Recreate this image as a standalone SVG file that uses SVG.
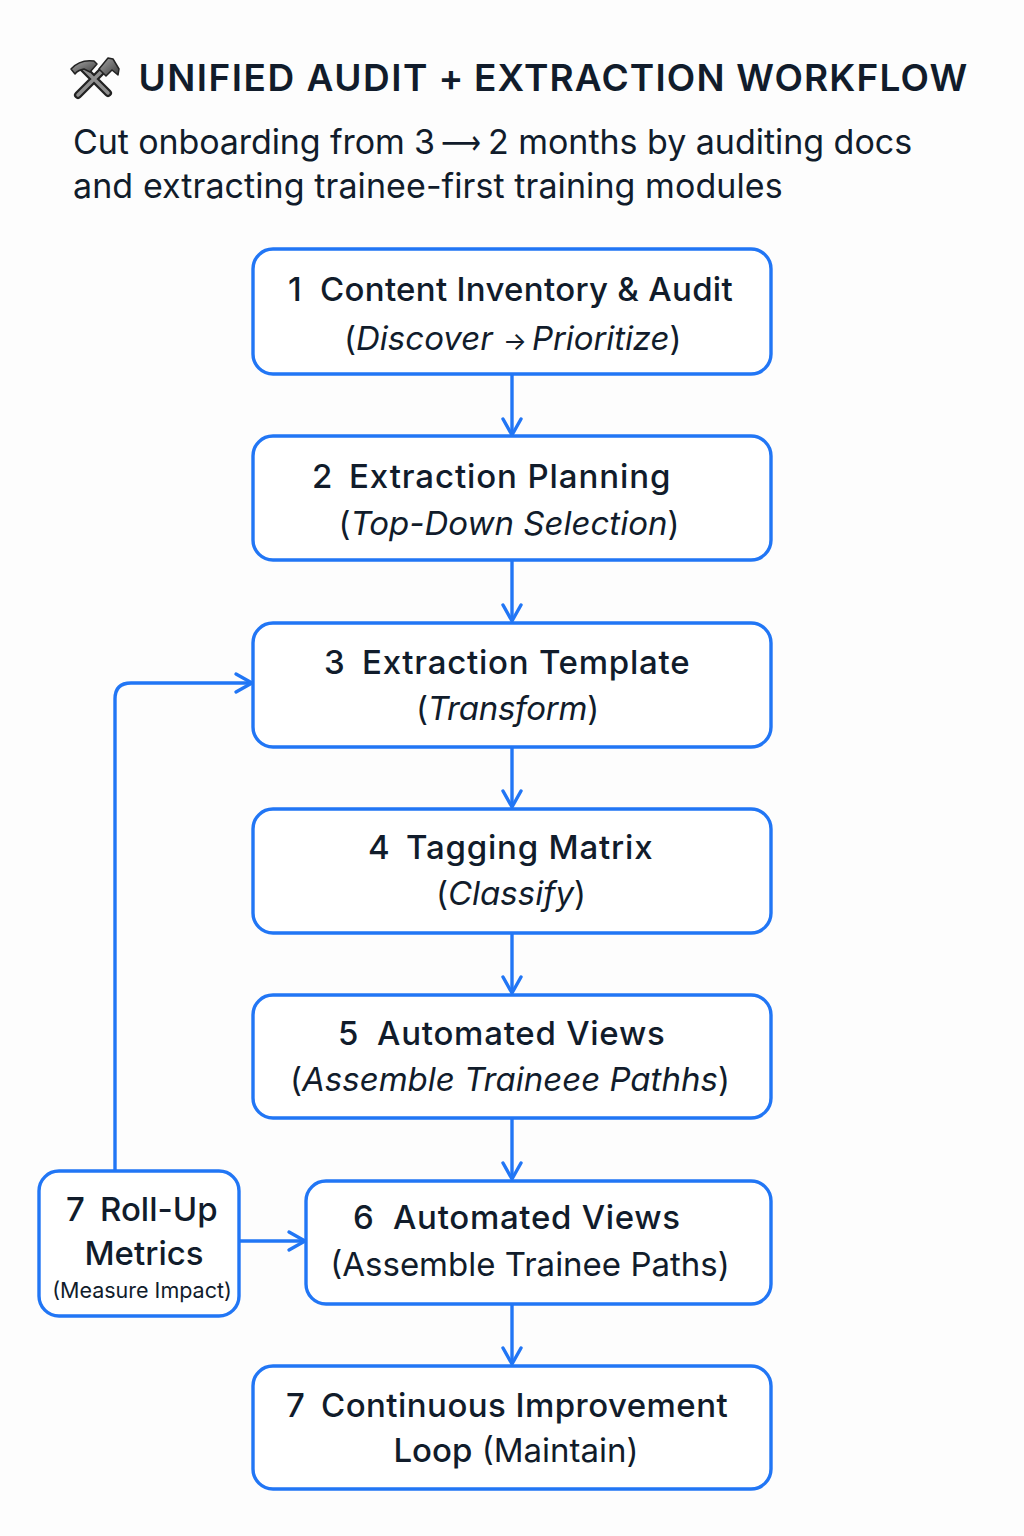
<svg xmlns="http://www.w3.org/2000/svg" width="1024" height="1536" viewBox="0 0 1024 1536">
<defs>
<style>
text{font-family:Inter,"Liberation Sans",sans-serif;fill:#111c2b;text-anchor:start}
.b{fill:#fff;stroke:#2176f5;stroke-width:3.4}
.h{font-size:33px;font-weight:500}
.s{font-size:33px}
.i{font-style:italic}
.m{text-anchor:middle}
.c{fill:none;stroke:#2176f5;stroke-width:3.4}
.a{fill:none;stroke:#2176f5;stroke-width:3.4;stroke-linecap:round;stroke-linejoin:round}
</style>
<marker id="arr" markerUnits="userSpaceOnUse" markerWidth="24" markerHeight="24" refX="17" refY="10" orient="auto" overflow="visible"><path class="a" d="M1 1L17 10L1 19"/></marker>
<linearGradient id="m" x1="0" y1="0" x2="1" y2="1"><stop offset="0" stop-color="#a8a8a8"/><stop offset="1" stop-color="#3a3a3a"/></linearGradient>
</defs>
<rect width="1024" height="1536" fill="#fdfdfd"/>
<g id="title">
<g id="icon">
<path d="M78 95L108 65M108 93L82 67" stroke="#222" stroke-width="8" stroke-linecap="round" fill="none"/>
<path d="M78 95L108 65M108 93L82 67" stroke="#8f8f8f" stroke-width="3.5" stroke-linecap="round" fill="none"/>
<path d="M71 69Q80 59 94 61L97 64L90 72L84 69Q78 70 75 74Z" fill="url(#m)" stroke="#222" stroke-width="1.5" stroke-linejoin="round"/>
<path d="M99 69L108 58L113 59L119 69L118 75L112 70L106 76Z" fill="url(#m)" stroke="#222" stroke-width="1.5" stroke-linejoin="round"/>
</g>
<text x="138.5" y="91" font-size="37" font-weight="600" letter-spacing="1.5">UNIFIED AUDIT</text>
<text x="438.5" y="91" font-size="37" font-weight="600">+</text>
<text x="474" y="91" font-size="37" font-weight="600" letter-spacing="1.16">EXTRACTION WORKFLOW</text>
<text x="73" y="154" font-size="34" letter-spacing="-0.1">Cut onboarding from 3</text>
<text x="441" y="154" font-size="34" style="font-family:'DejaVu Sans',sans-serif" textLength="40" lengthAdjust="spacingAndGlyphs">⟶</text>
<text x="488" y="154" font-size="34" letter-spacing="-0.03">2 months by auditing docs</text>
<text x="73" y="198" font-size="34" letter-spacing="0.08">and extracting trainee-first training modules</text>
</g>
<g id="connectors">
<path class="c" d="M512 375V435" marker-end="url(#arr)"/>
<path class="c" d="M512 561V621" marker-end="url(#arr)"/>
<path class="c" d="M512 747V807" marker-end="url(#arr)"/>
<path class="c" d="M512 933V993" marker-end="url(#arr)"/>
<path class="c" d="M512 1118V1179" marker-end="url(#arr)"/>
<path class="c" d="M512 1304V1364" marker-end="url(#arr)"/>
<path class="c" d="M240 1241H305" marker-end="url(#arr)"/>
<path class="c" d="M115 1170V699Q115 683 131 683H252" marker-end="url(#arr)"/>
</g>
<g id="n1"><rect class="b" x="253" y="249" width="518" height="125" rx="20"/><text class="h" x="288" y="301">1</text><text class="h" x="320" y="301" letter-spacing="0.3">Content Inventory &amp; Audit</text><text class="s" x="344" y="350">(<tspan class="i">Discover</tspan></text><text x="503" y="350" font-size="25">→</text><text class="s" x="532" y="350" letter-spacing="-0.1"><tspan class="i">Prioritize</tspan>)</text></g>
<g id="n2"><rect class="b" x="253" y="436" width="518" height="124" rx="20"/><text class="h" x="312" y="488">2</text><text class="h" x="349" y="488" letter-spacing="0.9">Extraction Planning</text><text class="s m" x="509" y="535"><tspan>(</tspan><tspan class="i">Top-Down Selection</tspan><tspan>)</tspan></text></g>
<g id="n3"><rect class="b" x="253" y="623" width="518" height="124" rx="20"/><text class="h" x="324" y="674">3</text><text class="h" x="362" y="674" letter-spacing="0.75">Extraction Template</text><text class="s m" x="507.5" y="720" letter-spacing="-0.25"><tspan>(</tspan><tspan class="i">Transform</tspan><tspan>)</tspan></text></g>
<g id="n4"><rect class="b" x="253" y="809" width="518" height="124" rx="20"/><text class="h" x="368" y="859">4</text><text class="h" x="406" y="859" letter-spacing="0.8">Tagging Matrix</text><text class="s m" x="511" y="905"><tspan>(</tspan><tspan class="i">Classify</tspan><tspan>)</tspan></text></g>
<g id="n5"><rect class="b" x="253" y="995" width="518" height="123" rx="20"/><text class="h" x="338" y="1045">5</text><text class="h" x="377" y="1045" letter-spacing="0.75">Automated Views</text><text class="s m" x="510" y="1091"><tspan>(</tspan><tspan class="i">Assemble Traineee Pathhs</tspan><tspan>)</tspan></text></g>
<g id="n6"><rect class="b" x="306" y="1181" width="465" height="123" rx="20"/><text class="h" x="353" y="1229">6</text><text class="h" x="393" y="1229" letter-spacing="0.7">Automated Views</text><text class="s m" x="530" y="1276">(Assemble Trainee Paths)</text></g>
<g id="n7a"><rect class="b" x="39" y="1171" width="200" height="145" rx="20"/><text class="h" x="66" y="1221">7</text><text class="h" x="100" y="1221">Roll-Up</text><text class="h m" x="144" y="1265">Metrics</text><text class="m" x="142" y="1298" font-size="21.5">(Measure Impact)</text></g>
<g id="n7b"><rect class="b" x="253" y="1366" width="518" height="123" rx="20"/><text class="h" x="286" y="1417">7</text><text class="h" x="321" y="1417" letter-spacing="0.45">Continuous Improvement</text><text x="516" y="1462" class="s m"><tspan font-weight="500">Loop</tspan> (Maintain)</text></g>
</svg>
